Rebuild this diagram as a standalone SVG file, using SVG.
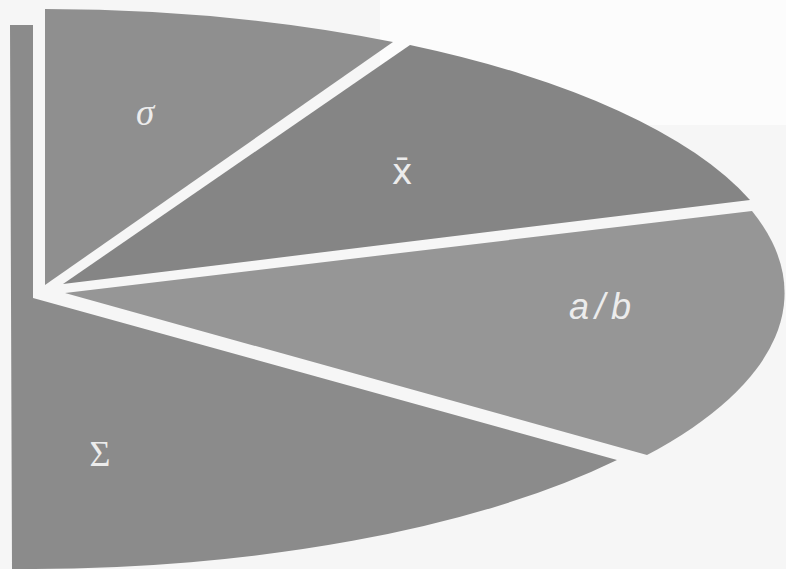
<svg xmlns="http://www.w3.org/2000/svg" width="786" height="569" viewBox="0 0 786 569">
  <style>
    .lbl { fill: #ececec; }
    .serif { font-family: "Liberation Serif", "DejaVu Serif", serif; }
    .sans { font-family: "Liberation Sans", "DejaVu Sans", sans-serif; }
    .dj { font-family: "DejaVu Sans", sans-serif; }
  </style>
  <rect x="0" y="0" width="786" height="569" fill="#f6f6f6"/>
  <rect x="380" y="0" width="406" height="125" fill="#fcfcfc"/>
  <g id="wedge-sigma">
    <path d="M45,285 L45,9 A745 280 0 0 1 393,42 Z" fill="#8f8f8f"/>
    <text class="lbl serif" x="145" y="125" font-size="37" font-style="italic" text-anchor="middle">σ</text>
  </g>
  <g id="wedge-xbar">
    <path d="M63,284 L410,45 A745 280 0 0 1 750,200 Z" fill="#858585"/>
    <text class="lbl dj" x="402" y="184" font-size="35" text-anchor="middle">x̄</text>
  </g>
  <g id="wedge-ab">
    <path d="M65,293 L752,211 A745 280 0 0 1 647,455 Z" fill="#969696"/>
    <text class="lbl sans" x="603" y="319" font-size="36" font-style="italic" letter-spacing="6" text-anchor="middle">a/b</text>
  </g>
  <g id="wedge-sum">
    <path d="M33,298 L617,460 A745 280 0 0 1 20,569 L12,569 L10,25 L33,25 Z" fill="#8b8b8b"/>
    <text class="lbl serif" x="100" y="466" font-size="36" text-anchor="middle">Σ</text>
  </g>
  <g id="connectors"/>
</svg>
